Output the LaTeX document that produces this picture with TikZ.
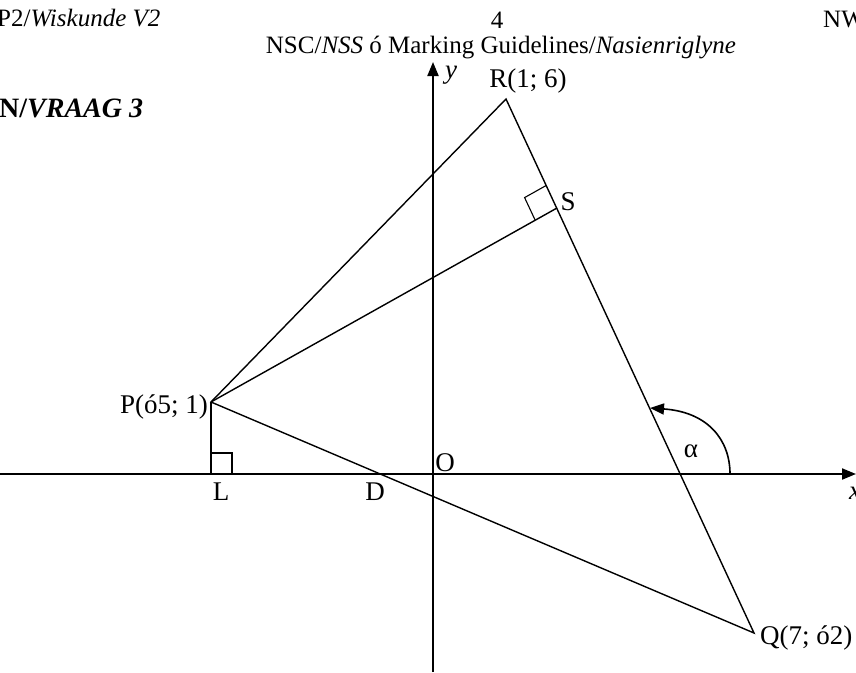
\documentclass[tikz,border=0pt]{standalone}
\usepackage{fontspec}
\setmainfont{Liberation Serif}
\usetikzlibrary{arrows.meta, calc}

\begin{document}
\begin{tikzpicture}[x=1pt, y=-1pt,
            axis/.style={line width=2pt, -{Triangle[length=14pt, width=11pt]}},
            side/.style={line width=1.4pt},
            mark90/.style={line width=1.1pt},
            hdr/.style={inner sep=0pt, font=\fontsize{25}{30}\selectfont},
            lbl/.style={inner sep=0pt, font=\fontsize{27}{32}\selectfont}]
            \useasboundingbox (0,0) rectangle (856,672);
            \node[hdr, anchor=west] (hdl) at (-3,18) {P2/\textit{Wiskunde V2}};
            \node[hdr] (hdp) at (497,20) {4};
            \node[hdr, anchor=west] (hdn) at (823,20) {NW};
            \node[hdr] (hdg) at (501,48) {NSC/\textit{NSS} ó Marking Guidelines/\textit{Nasienriglyne}};
            \node[hdr, anchor=west, font=\fontsize{28}{33}\selectfont\bfseries] (qtitle) at (-1,108) {N/\textit{VRAAG 3}};
            \coordinate (O) at (433,474);
            \coordinate (P) at (211,402);
            \coordinate (R) at (506,99);
            \coordinate (Q) at (754,633);
            \coordinate (S) at (557,208);
            \coordinate (L) at (211,474);
            \coordinate (xl) at (0,474);
            \coordinate (xr) at (856,474);
            \coordinate (yb) at (433,672);
            \coordinate (yt) at (433,62);
            \coordinate (a1) at (730,474);
            \coordinate (a2) at (650,408);
            \draw[axis] (xl) -- (xr);
            \draw[axis] (yb) -- (yt);
            \draw[side] (P) -- (R) -- (Q) -- cycle;
            \draw[side] (P) -- (S);
            \draw[side] (P) -- (L);
            \draw[mark90] (L) rectangle ++(21,-21);
            \coordinate (sr) at ($(S)!25pt!(R)$);
            \coordinate (sp) at ($(S)!25pt!(P)$);
            \draw[mark90] (sr) -- ($(sr)+(sp)-(S)$) -- (sp);
            \draw[line width=1.6pt, -{Triangle[length=14pt, width=11pt]}] (a1) .. controls (730,440) and (708,412) .. (a2);
            \node[lbl] (ylab) at (451,75) {\textit{y}};
            \node[lbl, anchor=west] (xlab) at (849,493) {\textit{x}};
            \node[lbl] (Rlab) at (528,81) {R(1; 6)};
            \node[lbl] (Slab) at (568,202) {S};
            \node[lbl, anchor=east] (Plab) at (208,407) {P(ó5; 1)};
            \node[lbl, anchor=west] (Qlab) at (760,638) {Q(7; ó2)};
            \node[lbl] (Llab) at (221,492) {L};
            \node[lbl] (Dlab) at (375,492) {D};
            \node[lbl] (Olab) at (445,463) {O};
            \node[lbl] (alab) at (691,451) {α};
        \end{tikzpicture}
\end{document}
